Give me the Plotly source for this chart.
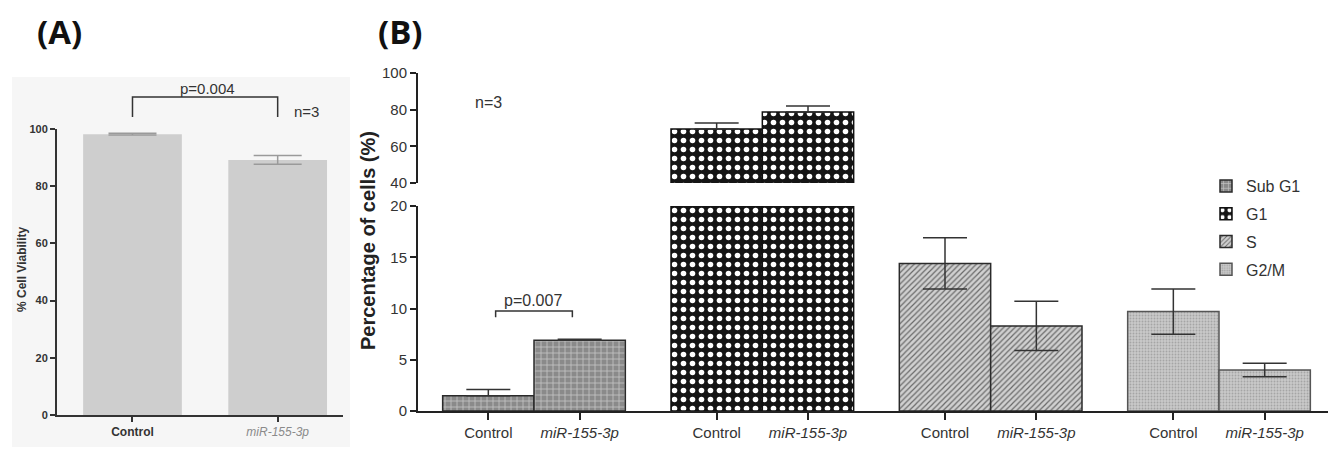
import plotly.graph_objects as go

# ---------------- data ----------------
groups_A = ["Control", "miR-155-3p"]
viability = [98.2, 89.2]
viability_err = [0.3, 1.5]
y_ticks_A = [0, 20, 40, 60, 80, 100]

phases = ["Sub G1", "G1", "S", "G2/M"]
control_pct = [1.5, 69.5, 14.4, 9.7]
mir_pct = [6.9, 78.7, 8.3, 4.0]
control_err = [0.6, 3.2, 2.5, 2.2]
mir_err = [0.1, 3.3, 2.4, 0.65]
treatment_labels = ["Control", "<i>miR-155-3p</i>"]
y_ticks_low = [0, 5, 10, 15, 20]
y_ticks_high = [40, 60, 80, 100]

# ---------------- geometry helpers ----------------
OFF = 8  # page body margin
W, H = 1336 - OFF, 450 - OFF
def px(x):
    return (x - OFF) / W
def py(y):
    return 1 - (y - OFF) / H

FONT = "Liberation Sans"
GROUP_STEP = 2.5

patterns = {
    "Sub G1": dict(shape="+", bgcolor="#8a8a8a", fgcolor="#c4c4c4", size=6, solidity=0.25),
    "G1": dict(shape=".", bgcolor="#151515", fgcolor="#ffffff", size=9, solidity=0.3),
    "S": dict(shape="/", bgcolor="#d0d0d0", fgcolor="#6a6a6a", size=4, solidity=0.3),
    "G2/M": dict(shape=".", bgcolor="#c9c9c9", fgcolor="#a5a5a5", size=3, solidity=0.3),
}
outline = {"Sub G1": "#2a2a2a", "G1": "#111111", "S": "#2a2a2a", "G2/M": "#555555"}

fig = go.Figure()

# ---------------- panel A ----------------
fig.add_trace(go.Bar(
    x=list(range(len(groups_A))), y=viability, width=0.68,
    marker=dict(color="#cecece", line=dict(width=0)),
    error_y=dict(type="data", array=viability_err, color="#9a9a9a", thickness=1.5, width=24),
    xaxis="x", yaxis="y", showlegend=False,
))

# ---------------- panel B ----------------
for g, ph in enumerate(phases):
    xs = [GROUP_STEP * g, GROUP_STEP * g + 1]
    vals = [control_pct[g], mir_pct[g]]
    errs = [control_err[g], mir_err[g]]
    upper_only = ph in ("Sub G1", "G1")
    err = dict(type="data", array=errs, arrayminus=[0, 0] if upper_only else errs,
               symmetric=False, color="#333333", thickness=1.5, width=22)
    marker = dict(pattern=patterns[ph], line=dict(color=outline[ph], width=1.5))
    fig.add_trace(go.Bar(x=xs, y=vals, width=1, marker=marker, error_y=err,
                         name=ph, legendgroup=ph, xaxis="x2", yaxis="y2"))
    if ph == "G1":
        fig.add_trace(go.Bar(x=xs, y=vals, width=1, marker=marker, error_y=err,
                             name=ph, legendgroup=ph, showlegend=False,
                             xaxis="x3", yaxis="y3"))

tickvals_B = [GROUP_STEP * g + k for g in range(len(phases)) for k in range(2)]
ticktext_B = [treatment_labels[k] for g in range(len(phases)) for k in range(2)]

axis_common = dict(showgrid=False, zeroline=False, showline=True, ticks="outside",
                   automargin=False)

def note(text, x, y, size, color="#333", **kw):
    return dict(text=text, x=px(x), y=py(y), xref="paper", yref="paper",
                xanchor="center", yanchor="middle", showarrow=False,
                font=dict(size=size, color=color, family=kw.pop("family", FONT)), **kw)

fig.update_layout(
    template="none",
    width=W, height=H,
    margin=dict(l=0, r=0, t=0, b=0, pad=0, autoexpand=False),
    paper_bgcolor="white", plot_bgcolor="rgba(0,0,0,0)",
    font=dict(family=FONT, color="#222"),
    barmode="overlay",
    xaxis=dict(domain=[px(57), px(343)], range=[-0.52, 1.45], anchor="y",
               tickvals=list(range(len(groups_A))),
               ticktext=["<b>Control</b>", "<span style='color:#8a8a8a'><i>miR-155-3p</i></span>"],
               tickfont=dict(size=12, color="#333"), linecolor="#333", linewidth=2,
               ticklen=5, tickwidth=1.5, tickcolor="#333", **axis_common),
    yaxis=dict(domain=[py(415), py(129)], range=[0, 100], anchor="x",
               tickvals=y_ticks_A, tickfont=dict(size=11, color="#333", weight="bold"),
               linecolor="#333", linewidth=2, ticklen=5, tickwidth=1.5, tickcolor="#333",
               **axis_common),
    xaxis2=dict(domain=[px(418), px(1335)], range=[-0.77, 9.27], anchor="y2",
                tickvals=tickvals_B, ticktext=ticktext_B,
                tickfont=dict(size=15, color="#333"), linecolor="#222", linewidth=2,
                ticklen=7, tickwidth=1.5, tickcolor="#222", **axis_common),
    yaxis2=dict(domain=[py(411), py(206)], range=[0, 20], anchor="x2",
                tickvals=y_ticks_low, tickfont=dict(size=15, color="#333"),
                linecolor="#222", linewidth=2, ticklen=6, tickwidth=1.5, tickcolor="#222",
                **axis_common),
    xaxis3=dict(domain=[px(418), px(1335)], range=[-0.77, 9.27], anchor="y3",
                visible=False, matches="x2", automargin=False),
    yaxis3=dict(domain=[py(183), py(73)], range=[40, 100], anchor="x3",
                tickvals=y_ticks_high, tickfont=dict(size=15, color="#333"),
                linecolor="#222", linewidth=2, ticklen=6, tickwidth=1.5, tickcolor="#222",
                **axis_common),
    legend=dict(x=px(1206), y=py(169), xanchor="left", yanchor="top",
                font=dict(size=16, color="#333", family=FONT),
                bgcolor="rgba(0,0,0,0)", borderwidth=0,
                traceorder="grouped", tracegroupgap=4),
    shapes=[
        # panel A light background
        dict(type="rect", xref="paper", yref="paper", x0=px(12), x1=px(350),
             y0=py(447), y1=py(77), fillcolor="#f6f6f6", line=dict(width=0), layer="below"),
        # bracket A
        dict(type="path", xref="x", yref="y domain",
             path="M 0,1.042 L 0,1.112 L 1,1.112 L 1,1.042",
             line=dict(color="#333", width=1.5)),
        # bracket B (Sub G1)
        dict(type="path", xref="x2", yref="y2",
             path=f"M {0.08},{9.15} L {0.08},{9.75} L {0.92},{9.75} L {0.92},{9.15}",
             line=dict(color="#333", width=1.5)),
    ],
    annotations=[
        note("<b>(A)</b>", 59, 31, 33, "#111", family="Open Sans"),
        note("<b>(B)</b>", 400, 31, 33, "#111", family="Open Sans"),
        note("p=0.004", 207, 88, 15),
        note("n=3", 306, 111, 15),
        note("p=0.007", 533, 300, 16),
        note("n=3", 488, 102, 16),
        note("<b>% Cell Viability</b>", 22, 270, 12, textangle=-90),
        note("<b>Percentage of cells (%)</b>", 368, 241, 20, "#222", textangle=-90),
    ],
)

fig.write_html("out.html")
